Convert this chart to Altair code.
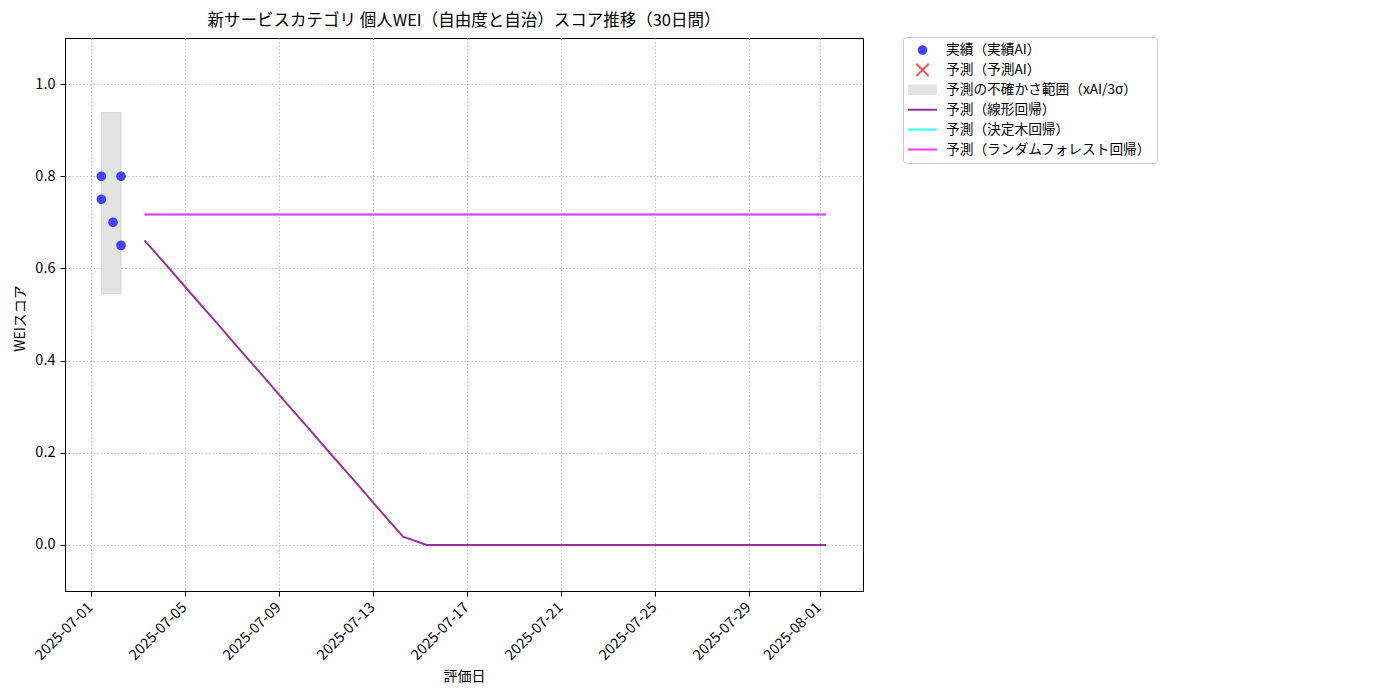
import altair as alt
import pandas as pd

FONT = "Noto Sans CJK JP"

# ---- series labels ----
S_ACT = "実績（実績AI）"
S_PRED = "予測（予測AI）"
S_BAND = "予測の不確かさ範囲（xAI/3σ）"
S_LIN = "予測（線形回帰）"
S_TREE = "予測（決定木回帰）"
S_RF = "予測（ランダムフォレスト回帰）"
series_order = [S_ACT, S_PRED, S_BAND, S_LIN, S_TREE, S_RF]
series_colors = ["#4343ff", "#ff4d4d", "#e3e3e3", "#993399", "#33ffff", "#ff33ff"]

# ---- actual data ----
actual_dates = ["2025-07-01T10:12:00", "2025-07-01T10:12:00", "2025-07-01T22:05:00",
                "2025-07-02T06:14:00", "2025-07-02T06:14:00"]
actual_scores = [0.80, 0.75, 0.70, 0.80, 0.65]

# ---- uncertainty band ----
band_start = ["2025-07-01T10:12:00"]
band_end = ["2025-07-02T06:14:00"]
band_low = [0.545]
band_high = [0.938]

# ---- forecast ----
forecast_dates = [
    "2025-07-03T06:14:00", "2025-07-04T06:14:00", "2025-07-05T06:14:00", "2025-07-06T06:14:00",
    "2025-07-07T06:14:00", "2025-07-08T06:14:00", "2025-07-09T06:14:00", "2025-07-10T06:14:00",
    "2025-07-11T06:14:00", "2025-07-12T06:14:00", "2025-07-13T06:14:00", "2025-07-14T06:14:00",
    "2025-07-15T06:14:00", "2025-07-16T06:14:00", "2025-07-17T06:14:00", "2025-07-18T06:14:00",
    "2025-07-19T06:14:00", "2025-07-20T06:14:00", "2025-07-21T06:14:00", "2025-07-22T06:14:00",
    "2025-07-23T06:14:00", "2025-07-24T06:14:00", "2025-07-25T06:14:00", "2025-07-26T06:14:00",
    "2025-07-27T06:14:00", "2025-07-28T06:14:00", "2025-07-29T06:14:00", "2025-07-30T06:14:00",
    "2025-07-31T06:14:00", "2025-08-01T06:14:00",
]
linear_pred = [0.661, 0.603, 0.544, 0.486, 0.427, 0.369, 0.310, 0.252, 0.193, 0.135,
               0.076, 0.018, 0.0, 0.0, 0.0, 0.0, 0.0, 0.0, 0.0, 0.0,
               0.0, 0.0, 0.0, 0.0, 0.0, 0.0, 0.0, 0.0, 0.0, 0.0]
tree_pred = [0.717, 0.717, 0.717, 0.717, 0.717, 0.717, 0.717, 0.717, 0.717, 0.717,
             0.717, 0.717, 0.717, 0.717, 0.717, 0.717, 0.717, 0.717, 0.717, 0.717,
             0.717, 0.717, 0.717, 0.717, 0.717, 0.717, 0.717, 0.717, 0.717, 0.717]
rf_pred = [0.717, 0.717, 0.717, 0.717, 0.717, 0.717, 0.717, 0.717, 0.717, 0.717,
           0.717, 0.717, 0.717, 0.717, 0.717, 0.717, 0.717, 0.717, 0.717, 0.717,
           0.717, 0.717, 0.717, 0.717, 0.717, 0.717, 0.717, 0.717, 0.717, 0.717]

x_ticks = ["2025-07-01", "2025-07-05", "2025-07-09", "2025-07-13", "2025-07-17",
           "2025-07-21", "2025-07-25", "2025-07-29", "2025-08-01"]
y_ticks = [0.0, 0.2, 0.4, 0.6, 0.8, 1.0]

TITLE = "新サービスカテゴリ 個人WEI（自由度と自治）スコア推移（30日間）"

# ---- legend shapes (custom paths) ----
circle_path = "M-0.33,0A0.33,0.33 0 1,0 0.33,0A0.33,0.33 0 1,0 -0.33,0Z"
x_path = ("M0,0.1L0.38,0.48L0.48,0.38L0.1,0L0.48,-0.38L0.38,-0.48L0,-0.1"
          "L-0.38,-0.48L-0.48,-0.38L-0.1,0L-0.48,0.38L-0.38,0.48Z")
rect_path = "M-1,-0.36H1V0.36H-1Z"
line_path = "M-1,-0.07H1V0.07H-1Z"
shape_range = [circle_path, x_path, rect_path, line_path, line_path, line_path]

# ---- tables ----
df_act = pd.DataFrame({"date": actual_dates, "score": actual_scores, "series": S_ACT})
df_band = pd.DataFrame({"start": band_start, "end": band_end, "low": band_low,
                        "high": band_high})
df_lin = pd.DataFrame({"date": forecast_dates, "score": linear_pred})
df_tree = pd.DataFrame({"date": forecast_dates, "score": tree_pred})
df_rf = pd.DataFrame({"date": forecast_dates, "score": rf_pred})

x_domain = [alt.DateTime(year=2025, month=6, date=29, hours=21, minutes=2),
            alt.DateTime(year=2025, month=8, date=2, hours=20, minutes=0)]
x_values = [alt.DateTime(year=int(s[0:4]), month=int(s[5:7]), date=int(s[8:10])) for s in x_ticks]

x_scale = alt.Scale(domain=x_domain, nice=False)
y_scale = alt.Scale(domain=[-0.1, 1.1], nice=False, zero=False)

x_axis = alt.Axis(
    title="評価日", values=x_values, format="%Y-%m-%d", labelAngle=-45,
    labelAlign="right", labelBaseline="top", labelPadding=4, labelOffset=-6,
    grid=True, gridDash=[1.5, 2], gridColor="#c4c4c4",
    tickColor="black", tickSize=5, domainColor="black",
    titleY=85, titleBaseline="middle",
)
y_axis = alt.Axis(
    title="WEIスコア", values=y_ticks, format=".1f",
    grid=True, gridDash=[1.5, 2], gridColor="#c4c4c4",
    tickColor="black", tickSize=5, domainColor="black", labelPadding=5,
    titleX=-45, titleY=280, titleAlign="center", titleBaseline="middle", titleAngle=-90,
)

color_scale = alt.Scale(domain=series_order, range=series_colors)
shape_scale = alt.Scale(domain=series_order, range=shape_range)

legend_kw = dict(
    title=None, orient="none", legendX=838, legendY=-1,
    symbolSize=841, clipHeight=16, rowPadding=3.9, padding=5,
    labelOffset=9, labelFontSize=13.7, labelFont=FONT, labelColor="black",
    labelLimit=400,
    strokeColor="#cccccc", fillColor="white", cornerRadius=3,
    symbolStrokeWidth=0, symbolOpacity=1,
)

band = alt.Chart(df_band).mark_rect(
    color=series_colors[2], stroke="#d6d6d6", strokeWidth=1
).encode(
    x=alt.X("start:T", scale=x_scale, axis=x_axis),
    x2="end:T",
    y=alt.Y("low:Q", scale=y_scale, axis=y_axis),
    y2="high:Q",
)

points = alt.Chart(df_act).mark_point(filled=True, opacity=1, size=841, strokeWidth=0).encode(
    x=alt.X("date:T", scale=x_scale, axis=x_axis),
    y=alt.Y("score:Q", scale=y_scale, axis=y_axis),
    color=alt.Color("series:N", scale=color_scale, legend=alt.Legend(**legend_kw)),
    shape=alt.Shape("series:N", scale=shape_scale, legend=alt.Legend(**legend_kw)),
)


def line_layer(df, col):
    return alt.Chart(df).mark_line(strokeWidth=2, color=col).encode(
        x=alt.X("date:T", scale=x_scale, axis=x_axis),
        y=alt.Y("score:Q", scale=y_scale, axis=y_axis),
    )


chart = alt.layer(
    band, points,
    line_layer(df_lin, series_colors[3]),
    line_layer(df_tree, series_colors[4]),
    line_layer(df_rf, series_colors[5]),
).properties(
    width=798, height=553,
    title=alt.Title(TITLE, fontSize=16.5, font=FONT, fontWeight="normal", color="black",
                    anchor="middle", frame="group", offset=7),
    autosize=alt.AutoSizeParams(type="none"),
    padding={"left": 57, "top": 30, "right": 520, "bottom": 95},
).configure_view(
    stroke="black", strokeWidth=1,
).configure_axis(
    labelFont=FONT, titleFont=FONT, labelFontSize=14.5, titleFontSize=14,
    labelColor="black", titleColor="black", titleFontWeight="normal",
)

chart.save("out.html", embed_options={"renderer": "svg", "actions": False})
